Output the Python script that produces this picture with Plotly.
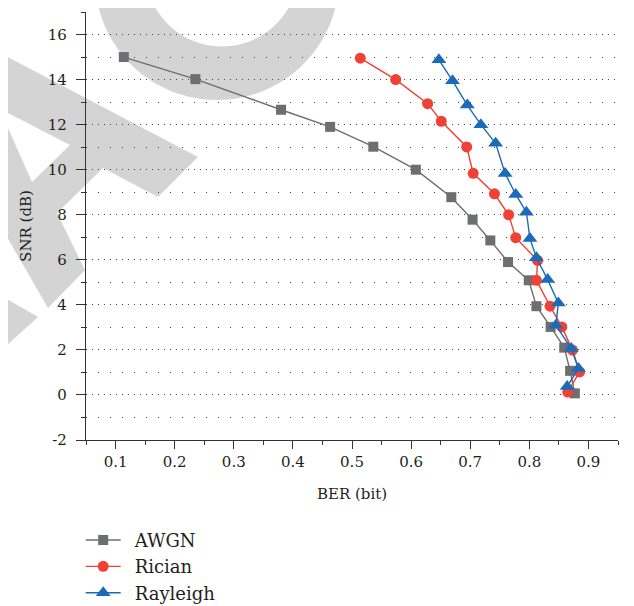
import numpy as np
import plotly.graph_objects as go

# ---------------- data ----------------
awgn_ber = [0.114, 0.235, 0.380, 0.463, 0.536, 0.608, 0.668, 0.704, 0.734, 0.764, 0.799, 0.812, 0.836, 0.859, 0.869, 0.877]
awgn_snr = [15.0, 14.02, 12.66, 11.9, 11.02, 10.0, 8.78, 7.78, 6.86, 5.9, 5.09, 3.94, 3.02, 2.1, 1.07, 0.07]

rician_ber = [0.514, 0.574, 0.628, 0.651, 0.694, 0.705, 0.741, 0.765, 0.777, 0.814, 0.812, 0.835, 0.855, 0.873, 0.885, 0.865]
rician_snr = [14.95, 14.0, 12.93, 12.15, 11.01, 9.84, 8.93, 8.0, 6.98, 5.97, 5.09, 3.94, 3.02, 1.99, 1.02, 0.13]

rayleigh_ber = [0.647, 0.670, 0.695, 0.718, 0.743, 0.759, 0.777, 0.795, 0.801, 0.812, 0.831, 0.849, 0.845, 0.871, 0.883, 0.864]
rayleigh_snr = [14.88, 13.95, 12.87, 12.0, 11.17, 9.83, 8.9, 8.11, 6.95, 6.09, 5.12, 4.08, 3.09, 2.06, 1.17, 0.37]

series_names = ["AWGN", "Rician", "Rayleigh"]
x_tickvals = [0.1, 0.2, 0.3, 0.4, 0.5, 0.6, 0.7, 0.8, 0.9]
x_ticktext = ["0.1", "0.2", "0.3", "0.4", "0.5", "0.6", "0.7", "0.8", "0.9"]
y_tickvals = [-2, 0, 2, 4, 6, 8, 10, 12, 14, 16]
y_ticktext = ["-2", "0", "2", "4", "6", "8", "10", "12", "14", "16"]

# ---------------- layout geometry ----------------
# page has an 8px body margin, so the figure is drawn at (8, 8)
OFF = 8
W, H = 634 - OFF, 606 - OFF
ML, MR, MT, MB = 86 - OFF, 16, 12 - OFF, 166
PW, PH = W - ML - MR, H - MT - MB

FONT = "DejaVu Serif"
TXT = "#231f20"
GRAY, RED, BLUE = "#6d6e71", "#ef4136", "#1c6bb7"

fig = go.Figure()
fig.add_trace(go.Scatter(x=awgn_ber, y=awgn_snr, name="\u2002" + series_names[0], mode="lines+markers",
                         line=dict(color=GRAY, width=1.4),
                         marker=dict(symbol="square", size=10, color=GRAY)))
fig.add_trace(go.Scatter(x=rician_ber, y=rician_snr, name="\u2002" + series_names[1], mode="lines+markers",
                         line=dict(color=RED, width=1.4),
                         marker=dict(symbol="circle", size=11, color=RED)))
fig.add_trace(go.Scatter(x=rayleigh_ber, y=rayleigh_snr, name="\u2002" + series_names[2], mode="lines+markers",
                         line=dict(color=BLUE, width=1.4),
                         marker=dict(symbol="triangle-up", size=13, color=BLUE)))

# ---------------- decorative watermark (page-pixel geometry -> paper) ----------------
def p(x, y):
    return (x - OFF - ML) / PW, 1 - (y - OFF - MT) / PH

def path_from(pts):
    s = ""
    for i, (x, y) in enumerate(pts):
        px, py = p(x, y)
        s += ("M" if i == 0 else "L") + f"{px:.4f},{py:.4f} "
    return s + "Z"

oc, orad = (217, -22), 122
ic, irad = (222, -30), 76.5
t_o0 = np.arcsin(-(oc[1] + 4) / orad)
t_i0 = np.arcsin(-(ic[1] + 4) / irad)
to = np.linspace(t_o0, np.pi - t_o0, 80)
ti = np.linspace(np.pi - t_i0, t_i0, 60)
ring = [(oc[0] + orad * np.cos(t), oc[1] + orad * np.sin(t)) for t in to]
ring += [(ic[0] + irad * np.cos(t), ic[1] + irad * np.sin(t)) for t in ti]

band = [(-4, 51), (198, 157), (158, 197), (103, 168), (57, 213), (85, 270), (48, 308),
        (-4, 218), (-4, 112), (0, 110), (32, 182), (70, 145), (0, 109), (-4, 107)]
wedge = [(-4, 293), (38, 317), (-4, 355)]

WM = "rgb(212,212,212)"
for pts in (ring, band, wedge):
    fig.add_shape(type="path", path=path_from(pts), xref="paper", yref="paper",
                  fillcolor=WM, line=dict(width=0), layer="below")

axis_common = dict(
    showline=True, linecolor="#333333", linewidth=1.4,
    ticks="outside", tickcolor="#333333", tickwidth=1.4,
    tickfont=dict(family=FONT, size=15, color=TXT),
    zeroline=False,
)

fig.update_xaxes(
    range=[0.05, 0.95], tickvals=x_tickvals, ticktext=x_ticktext, ticklen=8,
    showgrid=False,
    minor=dict(dtick=0.05, tick0=0.05, ticks="outside", ticklen=4, tickcolor="#333333", tickwidth=1.4, showgrid=False),
    title=dict(text="BER (bit)", font=dict(family=FONT, size=15, color=TXT), standoff=18),
    **axis_common,
)
fig.update_yaxes(
    range=[-2, 17], tickvals=y_tickvals, ticktext=y_ticktext, ticklen=9,
    showgrid=True, gridcolor="#444444", gridwidth=1.2, griddash="1px,5px",
    minor=dict(dtick=1, tick0=1, ticks="outside", ticklen=4, tickcolor="#333333", tickwidth=1.4,
               showgrid=True, gridcolor="#444444", gridwidth=1.2, griddash="1px,11px"),
    title=dict(text="SNR (dB)", font=dict(family=FONT, size=15, color=TXT), standoff=12),
    ticklabelstandoff=6,
    **axis_common,
)

fig.update_layout(
    width=W, height=H,
    margin=dict(l=ML, r=MR, t=MT, b=MB, autoexpand=False),
    paper_bgcolor="white", plot_bgcolor="rgba(0,0,0,0)",
    font=dict(family=FONT, size=15, color=TXT),
    showlegend=True,
    legend=dict(x=-0.010, y=-0.191, xanchor="left", yanchor="top", orientation="v",
                font=dict(family=FONT, size=18, color=TXT), itemwidth=35,
                bgcolor="rgba(0,0,0,0)", tracegroupgap=0),
)

fig.write_html("out.html")
